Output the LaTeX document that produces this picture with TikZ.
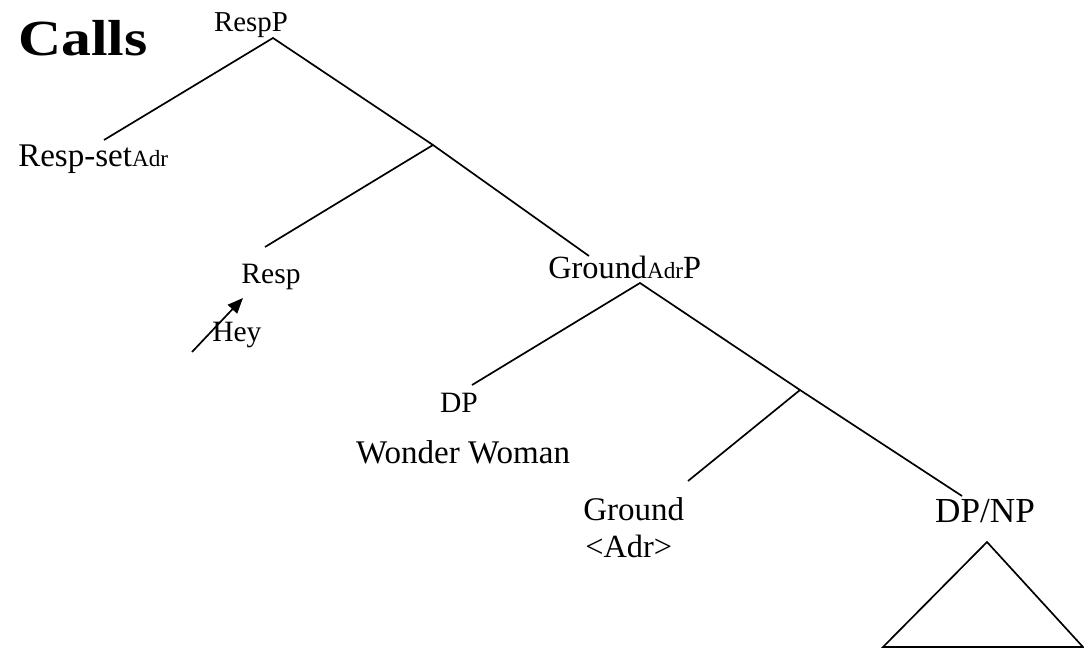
\documentclass[tikz,border=0pt]{standalone}
\usepackage{fontspec}
\setmainfont{Liberation Serif}
\usetikzlibrary{arrows.meta}

\newcommand{\adrsub}{{\fontsize{16.5}{19}\selectfont Adr}}

\begin{document}
\begin{tikzpicture}[
        x=0.025cm, y=-0.025cm,
        lab/.style={inner sep=0pt, font=\fontsize{21}{26}\selectfont},
        labbig/.style={lab, font=\fontsize{23.5}{28}\selectfont},
        branch/.style={line width=1.2pt},
        arr/.style={-{Triangle[length=11pt, width=9pt]}, line width=1.2pt}
    ]
    \useasboundingbox (0,0) rectangle (1084,650);
    % title
    \node[lab, anchor=base west, font=\bfseries\fontsize{36}{40}\selectfont]
        (title) at (18,56) {\scalebox{1.18}[1]{Calls}};
    % labels
    \node[lab, anchor=base, font=\fontsize{20.5}{25}\selectfont]
        (respP) at (251,32) {RespP};
    \node[labbig, anchor=base west] (respset) at (18,166) {Resp-set\adrsub};
    \node[lab, anchor=base] (resp) at (271,283) {Resp};
    \node[lab, anchor=base west] (hey) at (212,341) {Hey};
    \node[labbig, anchor=base west, font=\fontsize{23}{28}\selectfont]
        (groundP) at (548,278) {Ground\adrsub P};
    \node[lab, anchor=base] (dp) at (459,412) {DP};
    \node[labbig, anchor=base] (ww) at (463,463) {Wonder Woman};
    \node[labbig, anchor=base west] (ground) at (583,520) {Ground};
    \node[labbig, anchor=base west, font=\fontsize{23}{28}\selectfont]
        (adr) at (585,557) {<Adr>};
    \node[labbig, anchor=base, font=\fontsize{25}{30}\selectfont]
        (dpnp) at (985,522) {DP/NP};
    % branch points
    \coordinate (respP-foot) at (273,38);
    \coordinate (respset-top) at (104,140);
    \coordinate (bar1) at (433,145);
    \coordinate (resp-top) at (265,247);
    \coordinate (groundP-top) at (589,256);
    \coordinate (groundP-foot) at (640,283);
    \coordinate (dp-top) at (472,385);
    \coordinate (bar2) at (800,390);
    \coordinate (ground-top) at (688,481);
    \coordinate (dpnp-top) at (962,496);
    \coordinate (hey-tail) at (192,352);
    \coordinate (resp-tip) at (243,298);
    % tree
    \draw[branch] (respset-top) -- (respP-foot) -- (bar1) -- (groundP-top);
    \draw[branch] (bar1) -- (resp-top);
    \draw[branch] (dp-top) -- (groundP-foot) -- (bar2) -- (dpnp-top);
    \draw[branch] (bar2) -- (ground-top);
    % movement arrow
    \draw[arr] (hey-tail) -- (resp-tip);
    % triangle under DP/NP
    \draw[branch, line join=miter] (987,542) -- (883,647) -- (1083,647) -- cycle;
\end{tikzpicture}
\end{document}
